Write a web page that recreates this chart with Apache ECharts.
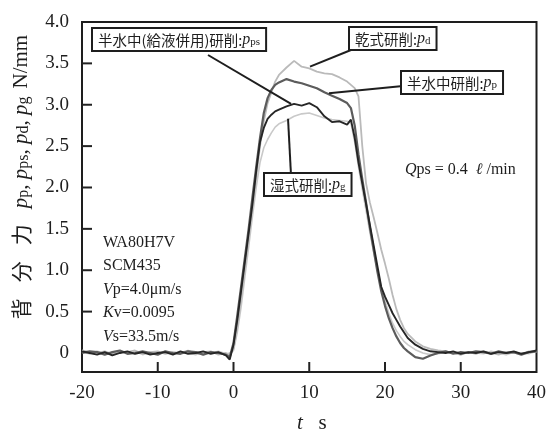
<!DOCTYPE html>
<html>
<head>
<meta charset="utf-8">
<script src="https://cdn.jsdelivr.net/npm/echarts@6/dist/echarts.min.js"></script>
<style>
  html, body { margin: 0; padding: 0; background: #fff; }
  #main { width: 549px; height: 433px; }
</style>
</head>
<body>
<div id="main"></div>
<script>
// time axis (s) - finer steps where the force rises / falls
var time = [
  -20, -19, -18, -17, -16, -15, -14, -13, -12, -11, -10, -9, -8, -7, -6, -5, -4, -3, -2, -1,
  -0.5, 0, 0.5, 1, 1.5, 2, 2.5, 3, 3.5, 4, 4.5, 5, 5.5,
  6, 7, 8, 9, 10, 11, 12, 13, 14, 15,
  15.5, 16, 16.5, 17, 17.5, 18, 18.5, 19, 19.5, 20, 20.5, 21, 21.5, 22, 22.5, 23,
  24, 25, 26, 27, 28, 29, 30, 31, 32, 33, 34, 35, 36, 37, 38, 39, 40
];

// 半水中(給液併用)研削 pps
var pps = [
  0.02, 0.00, -0.02, 0.01, -0.03, 0.00, 0.02, -0.01, 0.01, -0.02, 0.00, 0.01, -0.02, 0.02, -0.01, 0.00, 0.02, -0.01, 0.01, -0.03,
  -0.08, 0.10, 0.40, 0.75, 1.10, 1.45, 1.80, 2.20, 2.55, 2.72, 2.83, 2.88, 2.92,
  2.94, 2.98, 3.01, 2.99, 3.02, 2.97, 2.86, 2.79, 2.80, 2.76,
  2.82, 2.60, 2.30, 2.05, 1.80, 1.55, 1.30, 1.05, 0.80, 0.68, 0.58, 0.48, 0.40, 0.32, 0.25, 0.18,
  0.10, 0.05, 0.02, 0.01, 0.00, 0.02, -0.01, 0.01, 0.00, 0.02, -0.01, 0.01, 0.00, 0.02, -0.01, 0.01, 0.03
];

// 半水中研削 pp
var pp = [
  0.00, 0.02, 0.01, -0.02, 0.01, 0.03, -0.01, 0.00, 0.02, 0.00, -0.02, 0.02, 0.00, -0.01, 0.02, 0.01, -0.02, 0.01, 0.00, -0.02,
  -0.05, 0.12, 0.45, 0.80, 1.15, 1.50, 1.88, 2.25, 2.60, 2.90, 3.08, 3.18, 3.24,
  3.27, 3.31, 3.28, 3.26, 3.23, 3.20, 3.15, 3.11, 3.07, 3.02,
  2.96, 2.75, 2.40, 2.10, 1.82, 1.52, 1.25, 0.98, 0.75, 0.57, 0.42, 0.30, 0.20, 0.12, 0.06, 0.02,
  -0.05, -0.07, -0.03, 0.00, 0.02, -0.01, 0.01, 0.00, 0.02, 0.01, -0.01, 0.02, 0.00, 0.01, -0.02, 0.01, 0.02
];

// 乾式研削 pd
var pd = [
  0.03, 0.01, 0.00, 0.02, -0.01, 0.02, 0.01, 0.03, -0.01, 0.01, 0.02, -0.01, 0.01, 0.00, 0.03, -0.01, 0.01, 0.02, -0.02, 0.00,
  -0.03, 0.05, 0.30, 0.65, 1.00, 1.38, 1.75, 2.12, 2.50, 2.80, 3.02, 3.15, 3.28,
  3.36, 3.45, 3.53, 3.46, 3.44, 3.40, 3.38, 3.37, 3.33, 3.28,
  3.24, 3.20, 3.10, 2.50, 2.05, 1.82, 1.64, 1.45, 1.25, 1.08, 0.90, 0.70, 0.53, 0.40, 0.30, 0.23,
  0.14, 0.08, 0.05, 0.03, 0.02, 0.00, -0.02, 0.01, -0.01, 0.02, 0.00, -0.02, 0.01, 0.00, -0.01, 0.02, 0.01
];

// 湿式研削 pg
var pg = [
  0.01, -0.01, 0.02, 0.00, -0.02, 0.01, 0.00, 0.02, -0.02, 0.01, -0.01, 0.02, -0.01, 0.01, 0.00, -0.02, 0.01, 0.00, 0.02, -0.01,
  0.00, 0.03, 0.25, 0.55, 0.92, 1.28, 1.65, 2.00, 2.30, 2.48, 2.58, 2.66, 2.73,
  2.77, 2.81, 2.86, 2.89, 2.90, 2.87, 2.84, 2.82, 2.81, 2.80,
  2.78, 2.55, 2.25, 1.98, 1.72, 1.46, 1.22, 1.00, 0.80, 0.63, 0.48, 0.36, 0.27, 0.20, 0.14, 0.10,
  0.04, 0.00, -0.02, -0.01, 0.01, 0.00, -0.02, 0.01, 0.00, -0.01, 0.02, 0.00, -0.02, 0.01, 0.00, -0.01, 0.02
];

var yLabels = [0, 0.5, 1.0, 1.5, 2.0, 2.5, 3.0, 3.5, 4.0];
var yTicks = [0.5, 1.0, 1.5, 2.0, 2.5, 3.0, 3.5];
var xTicks = [-10, 0, 10, 20, 30];

// where each callout's leader line touches its curve [t, value]
var leaderPps = [7.6, 3.01];
var leaderPd = [10.1, 3.46];
var leaderPp = [12.6, 3.14];
var leaderPg = [7.2, 2.83];

var SERIF = '"Liberation Serif", "DejaVu Serif", serif';
var CJK = '"Noto Sans CJK JP", "Noto Sans CJK SC", sans-serif';
var INK = '#1e1e1e';

function pairs(vals) {
  return time.map(function (t, i) { return [t, vals[i]]; });
}

var chart = echarts.init(document.getElementById('main'));

function lineSeries(name, vals, color, width) {
  return {
    name: name,
    type: 'line',
    data: pairs(vals),
    showSymbol: false,
    symbol: 'none',
    lineStyle: { color: color, width: width },
    silent: true
  };
}

chart.setOption({
  animation: false,
  backgroundColor: '#fff',
  grid: { left: 82, right: 10, top: 22, bottom: 61, show: true, borderColor: INK, borderWidth: 2 },
  xAxis: {
    type: 'value', min: -20, max: 40, interval: 10,
    axisLine: { show: false, onZero: false },
    axisTick: { show: false },
    axisLabel: { color: INK, fontFamily: SERIF, fontSize: 19, margin: 12 },
    splitLine: { show: false }
  },
  yAxis: {
    type: 'value', min: -0.23, max: 4,
    axisLine: { show: false, onZero: false },
    axisTick: { show: false },
    axisLabel: {
      color: INK, fontFamily: SERIF, fontSize: 19, margin: 13,
      customValues: yLabels,
      formatter: function (v) { return v === 0 ? '0' : v.toFixed(1); }
    },
    splitLine: { show: false }
  },
  series: [
    lineSeries('pg', pg, '#c9c9c9', 1.6),
    lineSeries('pd', pd, '#bababa', 1.8),
    lineSeries('pp', pp, '#5c5c5c', 2.2),
    lineSeries('pps', pps, '#262626', 1.9)
  ]
});

function px(pt) { return chart.convertToPixel({ gridIndex: 0 }, pt); }

// inward tick marks, placed through the axis scales
var tickEls = [];
yTicks.forEach(function (v) {
  var p = px([-20, v]);
  tickEls.push({ type: 'line', z: 30, shape: { x1: p[0], y1: p[1], x2: p[0] + 10, y2: p[1] },
    style: { stroke: '#222', lineWidth: 2 } });
});
xTicks.forEach(function (t) {
  var p = px([t, -0.23]);
  tickEls.push({ type: 'line', z: 30, shape: { x1: p[0], y1: p[1], x2: p[0], y2: p[1] - 10 },
    style: { stroke: '#222', lineWidth: 2 } });
});

var boxRich = {
  c: { fontFamily: CJK, fontSize: 14.5, fill: INK },
  i: { fontFamily: SERIF, fontStyle: 'italic', fontSize: 16, fill: INK },
  s: { fontFamily: SERIF, fontSize: 11, fill: INK, verticalAlign: 'bottom' }
};

function box(x, y, text) {
  return {
    type: 'text', x: x, y: y, z: 20,
    style: {
      text: text, rich: boxRich, align: 'left', verticalAlign: 'top',
      backgroundColor: '#fff', borderColor: INK, borderWidth: 2,
      padding: [3, 5, 2, 5]
    }
  };
}

function leader(x, y, pt) {
  var p = px(pt);
  return {
    type: 'line', z: 15,
    shape: { x1: x, y1: y, x2: p[0], y2: p[1] },
    style: { stroke: INK, lineWidth: 2 }
  };
}

var serifRich = {
  n: { fontFamily: SERIF, fontSize: 16, fill: INK, lineHeight: 23.5 },
  i: { fontFamily: SERIF, fontSize: 16, fontStyle: 'italic', fill: INK, lineHeight: 23.5 }
};

chart.setOption({
  graphic: tickEls.concat([
    leader(208, 55, leaderPps),
    leader(351, 50, leaderPd),
    leader(403, 86, leaderPp),
    leader(291, 175, leaderPg),
    box(93, 29, '{c|半水中(給液併用)研削:}{i|p}{s|ps}'),
    box(350, 28, '{c|乾式研削:}{i|p}{s|d}'),
    box(402, 72, '{c|半水中研削:}{i|p}{s|p}'),
    box(265, 174, '{c|湿式研削:}{i|p}{s|g}'),
    {
      type: 'text', x: 103, y: 231, z: 10,
      style: {
        text: '{n|WA80H7V}\n{n|SCM435}\n{i|V}{n|p=4.0μm/s}\n{i|K}{n|v=0.0095}\n{i|V}{n|s=33.5m/s}',
        rich: serifRich, align: 'left', verticalAlign: 'top'
      }
    },
    {
      type: 'text', x: 405, y: 170, z: 10,
      style: {
        text: '{i|Q}{n|ps = 0.4  }{i|ℓ}{n| /min}',
        rich: serifRich, align: 'left', verticalAlign: 'middle'
      }
    },
    {
      // y axis title, reads bottom to top
      type: 'text', x: 21, y: 181, rotation: Math.PI / 2, z: 10,
      style: {
        text: '{k|背}{k|分}{k|力}{g| }{i|p}{s|p}{n|, }{i|p}{s|ps}{n|, }{i|p}{s|d}{n|, }{i|p}{s|g}{g|  }{n|N/mm}',
        align: 'center', verticalAlign: 'middle',
        rich: {
          k: { fontFamily: CJK, fontSize: 21, fill: INK, width: 37, align: 'center' },
          g: { fontFamily: SERIF, fontSize: 21, width: 8 },
          i: { fontFamily: SERIF, fontSize: 21, fontStyle: 'italic', fill: INK },
          s: { fontFamily: SERIF, fontSize: 16, fill: INK, verticalAlign: 'bottom' },
          n: { fontFamily: SERIF, fontSize: 21, fill: INK }
        }
      }
    },
    {
      type: 'text', x: 297, y: 423, z: 10,
      style: {
        text: '{i|t}{n|   s}', align: 'left', verticalAlign: 'middle',
        rich: {
          i: { fontFamily: SERIF, fontSize: 21, fontStyle: 'italic', fill: INK },
          n: { fontFamily: SERIF, fontSize: 21, fill: INK }
        }
      }
    }
  ])
});
</script>
</body>
</html>
